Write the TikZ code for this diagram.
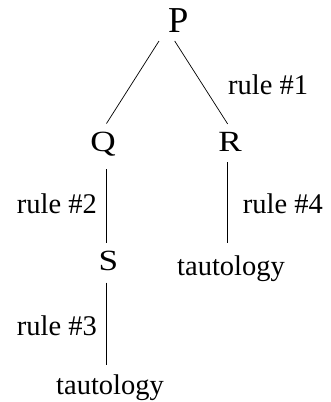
\documentclass[tikz,border=0pt]{standalone}
\usepackage{fontspec}
\setmainfont{Liberation Serif}
\newcommand{\wideletter}[1]{\scalebox{1.2}[1]{#1}}
\begin{document}
\begin{tikzpicture}[x=1pt,y=-1pt,
  lbl/.style={inner sep=0pt,font=\fontsize{28.5}{32}\selectfont},
  sym/.style={inner sep=0pt,anchor=base,font=\fontsize{29.3}{34}\selectfont},
  edge/.style={line width=0.7pt}]
\useasboundingbox (0,0) rectangle (330,402);

% formulas
\node[sym,font=\fontsize{36.5}{40}\selectfont] (P) at (178.3,32.7) {P};
\node[sym] (Q) at (103,151.5) {\wideletter{Q}};
\node[sym] (R) at (230,151.7) {\wideletter{R}};
\node[sym] (S) at (108.3,270.5) {\wideletter{S}};
\node[lbl,anchor=base] (T1) at (231,275) {tautology};
\node[lbl,anchor=base] (T2) at (110,394) {tautology};

% rule labels
\node[lbl,anchor=base west] (r1) at (228,94.3) {rule \#1};
\node[lbl,anchor=base east] (r2) at (97,213.3) {rule \#2};
\node[lbl,anchor=base west] (r4) at (242.7,213.3) {rule \#4};
\node[lbl,anchor=base east] (r3) at (97,335) {rule \#3};

% line ends
\coordinate (Pq) at (159,41);
\coordinate (Pr) at (174.7,41);
\coordinate (Qt) at (106.5,123.5);
\coordinate (Rt) at (227.7,124);
\coordinate (Qb) at (106.5,169.3);
\coordinate (St) at (106.5,243.3);
\coordinate (Sb) at (106.7,282.7);
\coordinate (T2t) at (106.7,365);
\coordinate (Rb) at (227.7,162.3);
\coordinate (T1t) at (227.7,243.3);

% connectors
\draw[edge] (Pq) -- (Qt);
\draw[edge] (Pr) -- (Rt);
\draw[edge] (Qb) -- (St);
\draw[edge] (Sb) -- (T2t);
\draw[edge] (Rb) -- (T1t);
\end{tikzpicture}
\end{document}
